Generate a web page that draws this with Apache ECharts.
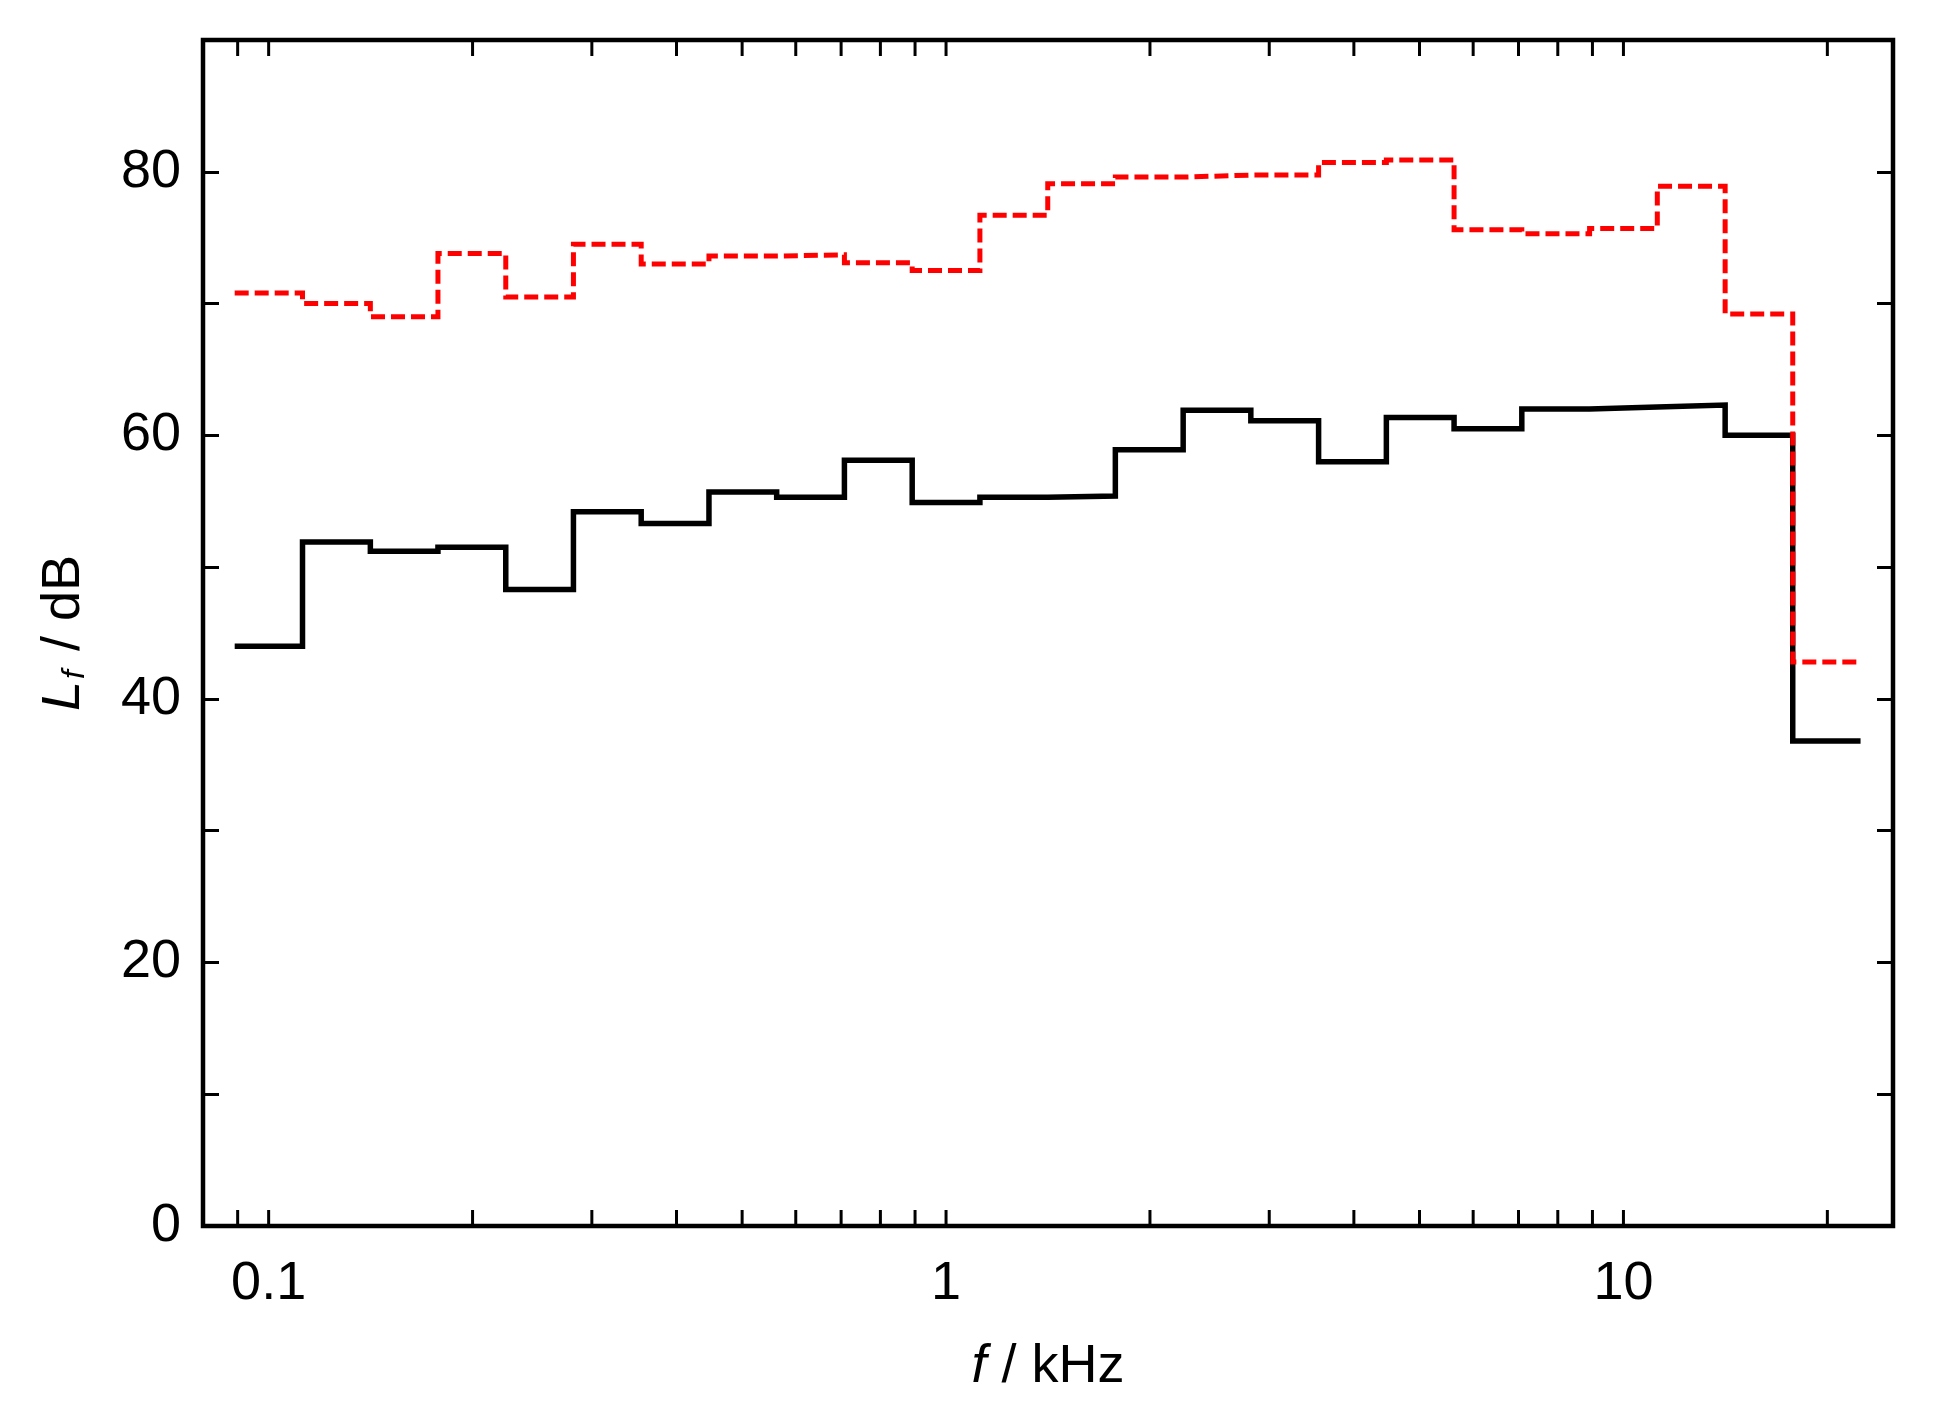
<!DOCTYPE html>
<html>
<head>
<meta charset="utf-8">
<script src="https://cdn.jsdelivr.net/npm/echarts@6/dist/echarts.min.js"></script>
<style>
html,body{margin:0;padding:0;background:#fff;}
#chart{width:1935px;height:1415px;}
</style>
</head>
<body>
<div id="chart"></div>
<script>
// One-third-octave band centre frequencies (kHz)
const bandCenters = [0.1,0.125,0.16,0.2,0.25,0.315,0.4,0.5,0.63,0.8,1,1.25,1.6,2,2.5,3.15,4,5,6.3,8,10,12.5,16,20];
// Band edges (kHz)
const bandEdges = [0.0891,0.1122,0.1413,0.1778,0.2239,0.2818,0.3548,0.4467,0.5623,0.7079,0.8913,1.122,1.413,1.778,2.239,2.818,3.548,4.467,5.623,7.079,8.913,11.22,14.13,17.78,22.39];
// Levels L_f (dB)
const levelBlack = [44.0,51.9,51.2,51.5,48.3,54.2,53.3,55.7,55.3,58.1,54.9,55.3,55.4,58.9,61.9,61.1,58.0,61.35,60.5,62.0,62.15,62.3,60.0,36.8];
const levelRed = [70.8,70.0,69.0,73.8,70.5,74.5,73.0,73.6,73.7,73.1,72.5,76.7,79.1,79.6,79.75,79.75,80.7,80.9,75.6,75.3,75.7,78.9,69.2,42.8];
// Axis ticks
const xTickValues = [0.09,0.1,0.2,0.3,0.4,0.5,0.6,0.7,0.8,0.9,1,2,3,4,5,6,7,8,9,10,20];
const xLabelValues = [0.1,1,10];
const yLabelValues = [0,20,40,60,80];

function stepPoints(levels){
  const pts = [];
  for (let i = 0; i < levels.length; i++){
    pts.push([bandEdges[i], levels[i]]);
    pts.push([bandEdges[i+1], levels[i]]);
  }
  return pts;
}

const FONT = 'Liberation Sans, Arial, Helvetica, sans-serif';
const chart = echarts.init(document.getElementById('chart'), null, {renderer:'canvas'});
const option = {
  backgroundColor:'#fff',
  animation:false,
  grid:{left:203, right:42, top:40, bottom:189, show:true, borderColor:'#000', borderWidth:4.5, backgroundColor:'transparent'},
  xAxis:[{
    type:'log', logBase:10, min:0.08, max:25,
    axisLine:{show:false}, axisTick:{show:false}, splitLine:{show:false},
    axisLabel:{
      show:true, margin:31, fontSize:54, color:'#000', fontFamily:FONT,
      showMinLabel:false, showMaxLabel:false,
      formatter:function(v){
        for (const l of xLabelValues){ if (Math.abs(v-l)/l < 1e-6) return String(l); }
        return '';
      }
    },
    name:'{i|f}{n| / kHz}', nameLocation:'middle', nameGap:114,
    nameTextStyle:{fontSize:54, color:'#000', fontFamily:FONT,
      rich:{i:{fontSize:54, fontStyle:'italic', fontFamily:FONT, color:'#000'}, n:{fontSize:54, fontFamily:FONT, color:'#000'}}}
  },{
    type:'log', logBase:10, min:0.08, max:25, position:'top',
    axisLine:{show:false}, axisTick:{show:false}, axisLabel:{show:false}, splitLine:{show:false}
  }],
  yAxis:[{
    type:'value', min:0, max:90, interval:10,
    axisLine:{show:false}, splitLine:{show:false},
    axisTick:{show:true, inside:true, length:16, lineStyle:{color:'#000', width:3}},
    axisLabel:{margin:22, fontSize:54, color:'#000', fontFamily:FONT,
      formatter:function(v){ return yLabelValues.indexOf(v) >= 0 ? String(v) : ''; }},
    name:'{i|L}{s|f}{n| / dB}', nameLocation:'middle', nameGap:112, nameRotate:90,
    nameTextStyle:{fontSize:54, color:'#000', fontFamily:FONT,
      rich:{
        i:{fontSize:54, fontStyle:'italic', fontFamily:FONT, color:'#000'},
        s:{fontSize:32, fontStyle:'italic', fontFamily:FONT, color:'#000', verticalAlign:'bottom', padding:[14,4,0,2]},
        n:{fontSize:54, fontFamily:FONT, color:'#000'}
      }}
  },{
    type:'value', min:0, max:90, interval:10, position:'right',
    axisLine:{show:false}, splitLine:{show:false}, axisLabel:{show:false},
    axisTick:{show:true, inside:true, length:16, lineStyle:{color:'#000', width:3}}
  }],
  series:[
    {
      type:'custom', xAxisIndex:0, yAxisIndex:0, silent:true, z:1,
      data:xTickValues.map(v => [v, 0]),
      renderItem:function(params, api){
        const v = api.value(0);
        const b = api.coord([v, 0]);
        const t = api.coord([v, 90]);
        return {type:'group', children:[
          {type:'line', shape:{x1:b[0], y1:b[1], x2:b[0], y2:b[1]-16}, style:{stroke:'#000', lineWidth:3}},
          {type:'line', shape:{x1:t[0], y1:t[1], x2:t[0], y2:t[1]+16}, style:{stroke:'#000', lineWidth:3}}
        ]};
      }
    },
    {
      type:'line', xAxisIndex:0, yAxisIndex:0, data:stepPoints(levelBlack),
      showSymbol:false, symbol:'none', z:3,
      lineStyle:{color:'#000', width:5.5, type:'solid', cap:'butt', join:'miter'}
    },
    {
      type:'line', xAxisIndex:0, yAxisIndex:0, data:stepPoints(levelRed),
      showSymbol:false, symbol:'none', z:4,
      lineStyle:{color:'#ff0000', width:5, type:[14,6], cap:'butt', join:'miter'}
    }
  ]
};
chart.setOption(option);
</script>
</body>
</html>
